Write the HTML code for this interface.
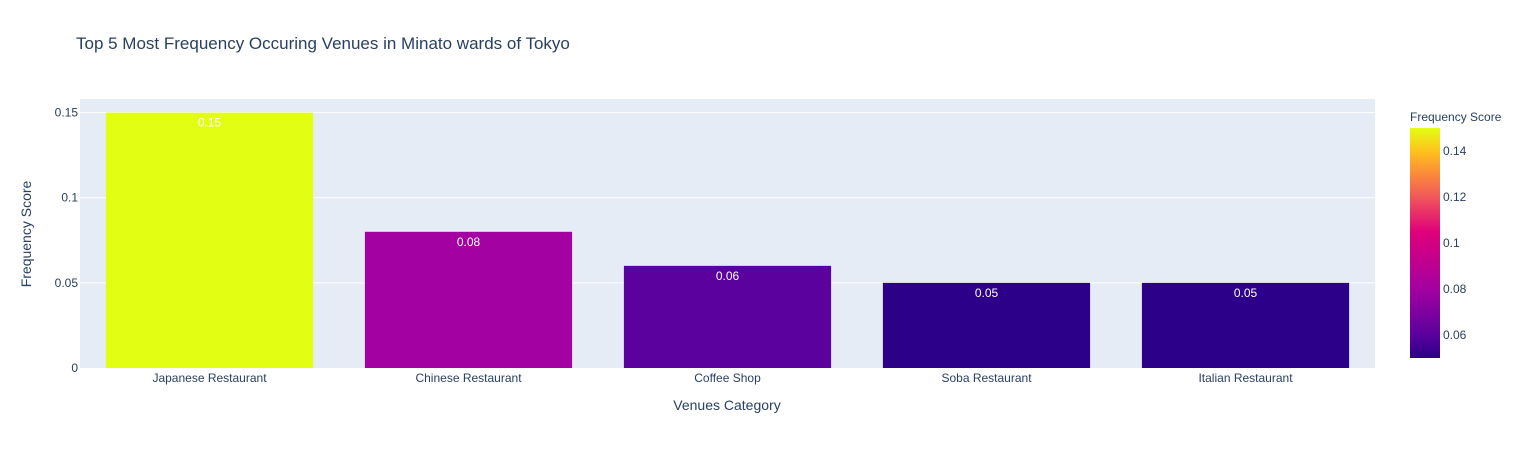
<!DOCTYPE html>
<html><head><meta charset="utf-8"><style>
body{margin:0;background:#fff;font-family:"Liberation Sans",sans-serif}
svg text{font-family:"Liberation Sans",sans-serif}
</style></head><body>
<svg id="c" width="1521" height="445" xmlns="http://www.w3.org/2000/svg">
<text x="76" y="49" font-size="17" fill="#2a3f5f">Top 5 Most Frequency Occuring Venues in Minato wards of Tokyo</text>
<rect x="80" y="99" width="1295" height="269" fill="#e5ecf6"/>
<g id="grid"></g><g id="bars"></g><g id="axes"></g>
<text x="727" y="410" font-size="14" fill="#2a3f5f" text-anchor="middle">Venues Category</text>
<text transform="translate(31,234) rotate(-90)" font-size="14" fill="#2a3f5f" text-anchor="middle">Frequency Score</text>
<text x="1410" y="121" font-size="12" fill="#2a3f5f">Frequency Score</text>
<defs><linearGradient id="cg" x1="0" y1="1" x2="0" y2="0"></linearGradient></defs>
<rect x="1410" y="128" width="30" height="230" fill="url(#cg)"/>
<g id="cbticks"></g>
</svg>
<script>
const categories=["Japanese Restaurant","Chinese Restaurant","Coffee Shop","Soba Restaurant","Italian Restaurant"];
const values=[0.15,0.08,0.06,0.05,0.05];
const yTicks=[0,0.05,0.1,0.15];
const yTickLabels=["0","0.05","0.1","0.15"];
const cbTicks=[0.06,0.08,0.1,0.12,0.14];
const cbTickLabels=["0.06","0.08","0.1","0.12","0.14"];
const scaleStops=[0,0.1,0.3,0.55,0.7,0.8,0.9,1];
const scaleColors=["#2c0088","#5a019e","#a301a1","#e0007a","#f0585a","#fb8a3a","#fec21c","#e2ff13"];
const NS="http://www.w3.org/2000/svg";
const X0=80,W=1295,Y0=368,PT=99;
const ymax=0.158;
const y=v=>Y0-(Y0-PT)*v/ymax;
const band=W/categories.length;
const vmin=Math.min(...values),vmax=Math.max(...values);
const cbY=v=>358-230*(v-vmin)/(vmax-vmin);
function hex(h){return [1,3,5].map(i=>parseInt(h.substr(i,2),16));}
function color(v){const t=(v-vmin)/(vmax-vmin);let i=0;while(i<scaleStops.length-2&&t>scaleStops[i+1])i++;
 const f=(t-scaleStops[i])/(scaleStops[i+1]-scaleStops[i]);
 const a=hex(scaleColors[i]),b=hex(scaleColors[i+1]);return "rgb("+a.map((c,k)=>Math.round(c+(b[k]-c)*f)).join(",")+")";}
function mk(tag,attrs,parent,txt){const e=document.createElementNS(NS,tag);for(const k in attrs)e.setAttribute(k,attrs[k]);if(txt!==undefined)e.textContent=txt;document.getElementById(parent).appendChild(e);return e;}
const g=document.getElementById("cg");
scaleColors.forEach((c,i)=>{const s=document.createElementNS(NS,"stop");s.setAttribute("offset",scaleStops[i]);s.setAttribute("stop-color",c);g.appendChild(s);});
yTicks.forEach((t,i)=>{
 if(t>0){const l=mk("line",{x1:X0,x2:X0+W,y1:y(t),y2:y(t),stroke:"#fff","stroke-width":1},"grid");
 
 }
 const tx=mk("text",{x:X0-2,y:y(t)+4,"font-size":12,fill:"#2a3f5f","text-anchor":"end"},"axes",yTickLabels[i]);
 
 
});
categories.forEach((c,i)=>{
 const cx=X0+band*(i+0.5),bw=band*0.8;
 const r=mk("rect",{x:cx-bw/2,y:y(values[i]),width:bw,height:Y0-y(values[i]),fill:color(values[i])},"bars");
 
 
 const lab=mk("text",{x:cx,y:y(values[i])+14,"font-size":12,fill:"#fff","text-anchor":"middle"},"bars",String(values[i]));
 
 
 const xl=mk("text",{x:cx,y:382,"font-size":12,fill:"#2a3f5f","text-anchor":"middle"},"axes",c);
 
 
});
cbTicks.forEach((t,i)=>{
 const tx=mk("text",{x:1443,y:cbY(t)+4,"font-size":12,fill:"#2a3f5f"},"cbticks",cbTickLabels[i]);
 
 
});
</script>
</body></html>
